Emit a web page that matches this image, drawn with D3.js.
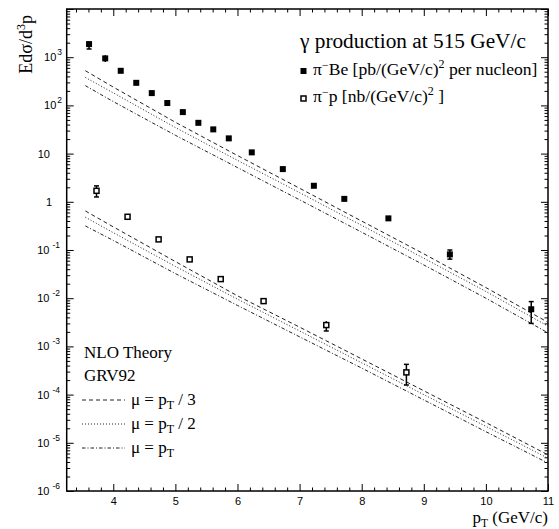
<!DOCTYPE html>
<html><head><meta charset="utf-8">
<script src="https://cdn.jsdelivr.net/npm/d3@7"></script>
<style>body{margin:0;background:#fff}</style>
</head><body>
<svg id="c" width="559" height="529"></svg>
<script>
// ---- data ----
const xDomain = [3.25, 11];
const yDomain = [1e-6, 1e4];
const xTickValues = [4, 5, 6, 7, 8, 9, 10, 11];
const xTickLabels = ["4", "5", "6", "7", "8", "9", "10", "11"];
const yTickValues = [1e-6, 1e-5, 1e-4, 1e-3, 1e-2, 1e-1, 1, 10, 1e2, 1e3];
const yTickBases = ["10", "10", "10", "10", "10", "10", "1", "10", "10", "10"];
const yTickExps = ["-6", "-5", "-4", "-3", "-2", "-1", "", "", "2", "3"];

// pi- Be (pb/(GeV/c)^2 per nucleon)
const beX = [3.61, 3.87, 4.12, 4.37, 4.62, 4.87, 5.12, 5.37, 5.61, 5.86, 6.23, 6.73, 7.23, 7.72, 8.43, 9.42, 10.73];
const beY = [1870, 945, 522, 294, 180, 112, 72.6, 43.5, 31.8, 20.7, 10.6, 4.77, 2.15, 1.15, 0.453, 0.081, 0.0059];
const beLo = [1480, 794, 500, 282, 172, 107, 69.5, 41.6, 30.4, 19.8, 10.1, 4.55, 2.05, 1.09, 0.43, 0.0646, 0.0030];
const beHi = [2140, 1096, 545, 307, 188, 117, 75.8, 45.4, 33.2, 21.6, 11.1, 4.99, 2.25, 1.21, 0.476, 0.100, 0.0085];

// pi- p (nb/(GeV/c)^2)
const pX = [3.73, 4.23, 4.73, 5.23, 5.73, 6.42, 7.43, 8.72];
const pY = [1.69, 0.489, 0.166, 0.0638, 0.0249, 0.0087, 0.00277, 0.000289];
const pLo = [1.26, 0.47, 0.159, 0.061, 0.0238, 0.0083, 0.00209, 0.000158];
const pHi = [2.14, 0.51, 0.173, 0.0665, 0.026, 0.0091, 0.00335, 0.000424];

// NLO theory curves
const thX = [3.55, 4, 5, 6, 7, 8, 9, 10, 11];
const beMu3 = [525, 240, 44.7, 9.12, 1.91, 0.398, 0.0832, 0.0166, 0.00316];
const beMu2 = [380, 182, 34.7, 7.24, 1.55, 0.324, 0.0676, 0.0138, 0.00263];
const beMu1 = [257, 120, 24.0, 5.13, 1.10, 0.234, 0.049, 0.0100, 0.00191];
const pMu3 = [0.646, 0.302, 0.0575, 0.0112, 0.00251, 5.5e-4, 1.2e-4, 2.63e-5, 5.62e-6];
const pMu2 = [0.479, 0.229, 0.0457, 0.00955, 0.00209, 4.57e-4, 1.0e-4, 2.19e-5, 4.79e-6];
const pMu1 = [0.316, 0.158, 0.0324, 0.00708, 0.00158, 3.55e-4, 7.76e-5, 1.70e-5, 3.80e-6];

// ---- drawing ----
const SERIF = "'Liberation Serif', 'Times New Roman', serif";
const SANS = "'Liberation Sans', Arial, sans-serif";
const svg = d3.select("#c");
const X0 = 66.7, X1 = 548, Y0 = 491, Y1 = 9;
const x = d3.scaleLinear().domain(xDomain).range([X0, X1]);
const y = d3.scaleLog().domain(yDomain).range([Y0, Y1]);

const xMinor = d3.range(34, 110, 2).map(v => v / 10).filter(v => Math.abs(v - Math.round(v)) > 1e-6);
const yMinor = [];
for (let e = -6; e < 4; e++) for (let k = 2; k <= 9; k++) yMinor.push(k * Math.pow(10, e));
const yMajorAll = yTickValues.concat([1e4]);

function styleAxis(g) {
  g.select(".domain").remove();
  g.selectAll("line").attr("stroke", "#000").attr("stroke-width", 1);
}
// bottom
svg.append("g").attr("transform", `translate(0,${Y0})`)
  .call(d3.axisBottom(x).tickValues(xTickValues).tickSize(-7).tickPadding(6)
    .tickFormat((d, i) => xTickLabels[i]))
  .call(styleAxis)
  .call(g => g.selectAll("text").attr("font-family", SANS).attr("font-size", 11).attr("fill", "#000"));
svg.append("g").attr("transform", `translate(0,${Y0})`)
  .call(d3.axisBottom(x).tickValues(xMinor).tickSize(-3.5).tickFormat("")).call(styleAxis);
// top
svg.append("g").attr("transform", `translate(0,${Y1})`)
  .call(d3.axisTop(x).tickValues(xTickValues).tickSize(-7).tickFormat("")).call(styleAxis);
svg.append("g").attr("transform", `translate(0,${Y1})`)
  .call(d3.axisTop(x).tickValues(xMinor).tickSize(-3.5).tickFormat("")).call(styleAxis);
// left
svg.append("g").attr("transform", `translate(${X0},0)`)
  .call(d3.axisLeft(y).tickValues(yMajorAll).tickSize(-7).tickFormat("")).call(styleAxis);
svg.append("g").attr("transform", `translate(${X0},0)`)
  .call(d3.axisLeft(y).tickValues(yMinor).tickSize(-3.5).tickFormat("")).call(styleAxis);
// right
svg.append("g").attr("transform", `translate(${X1},0)`)
  .call(d3.axisRight(y).tickValues(yMajorAll).tickSize(-7).tickFormat("")).call(styleAxis);
svg.append("g").attr("transform", `translate(${X1},0)`)
  .call(d3.axisRight(y).tickValues(yMinor).tickSize(-3.5).tickFormat("")).call(styleAxis);

// y tick labels
yTickValues.forEach((v, i) => {
  const exp = yTickExps[i];
  let endX;
  if (exp === "") endX = (yTickBases[i] === "1") ? 52 : 50;
  else if (exp.startsWith("-")) endX = 60;
  else endX = 62;
  const t = svg.append("text").attr("x", endX).attr("y", y(v) + 4)
    .attr("text-anchor", "end").attr("font-family", SANS).attr("font-size", 11).attr("fill", "#000");
  t.append("tspan").text(yTickBases[i]);
  if (exp !== "") {
    t.append("tspan").attr("dx", exp.startsWith("-") ? 3 : 1).attr("dy", -6).attr("font-size", 8.5).text(exp);
  }
});

// frame
svg.append("rect").attr("x", X0).attr("y", Y1).attr("width", X1 - X0).attr("height", Y0 - Y1)
  .attr("fill", "none").attr("stroke", "#000").attr("stroke-width", 1.5);

// theory curves
const line = d3.line().x(d => x(d[0])).y(d => y(d[1]));
const dashes = { mu3: "4,3", mu2: "1,2", mu1: "3.5,2,1,2" };
const curves = [[beMu3, "mu3"], [beMu2, "mu2"], [beMu1, "mu1"], [pMu3, "mu3"], [pMu2, "mu2"], [pMu1, "mu1"]];
curves.forEach(([vals, k]) => {
  svg.append("path").datum(thX.map((xv, i) => [xv, vals[i]]))
    .attr("d", line).attr("fill", "none").attr("stroke", "#222").attr("stroke-width", 1)
    .attr("stroke-dasharray", dashes[k]);
});

// data points
function drawPoints(xs, ys, lo, hi, filled) {
  xs.forEach((xv, i) => {
    const cx = x(xv), cy = y(ys[i]);
    const yl = y(lo[i]), yh = y(hi[i]);
    svg.append("line").attr("x1", cx).attr("x2", cx).attr("y1", yl).attr("y2", yh)
      .attr("stroke", "#000").attr("stroke-width", 1.5);
    if (yl - cy > 4) svg.append("line").attr("x1", cx - 2.5).attr("x2", cx + 2.5).attr("y1", yl).attr("y2", yl).attr("stroke", "#000").attr("stroke-width", 1.5);
    if (cy - yh > 4) svg.append("line").attr("x1", cx - 2.5).attr("x2", cx + 2.5).attr("y1", yh).attr("y2", yh).attr("stroke", "#000").attr("stroke-width", 1.5);
    marker(cx, cy, filled);
  });
}
function marker(cx, cy, filled) {
  if (filled) svg.append("rect").attr("x", cx - 3).attr("y", cy - 3).attr("width", 6).attr("height", 6).attr("fill", "#000");
  else svg.append("rect").attr("x", cx - 2.5).attr("y", cy - 2.5).attr("width", 5).attr("height", 5)
    .attr("fill", "#fff").attr("stroke", "#000").attr("stroke-width", 1.5);
}
drawPoints(beX, beY, beLo, beHi, true);
drawPoints(pX, pY, pLo, pHi, false);

// top-right legend
svg.append("text").attr("x", 300).attr("y", 48).attr("font-family", SERIF).attr("font-size", 21.3)
  .text("γ production at 515 GeV/c");
marker(303.5, 71, true);
marker(303.5, 98.5, false);
const l1 = svg.append("text").attr("x", 313).attr("y", 75).attr("font-family", SERIF).attr("font-size", 17.6);
l1.append("tspan").text("π");
l1.append("tspan").attr("dy", -6).attr("font-size", 12).text("−");
l1.append("tspan").attr("dy", 6).text("Be [pb/(GeV/c)");
l1.append("tspan").attr("dy", -7).attr("font-size", 12).text("2");
l1.append("tspan").attr("dy", 7).text(" per nucleon]");
const l2 = svg.append("text").attr("x", 313).attr("y", 102).attr("font-family", SERIF).attr("font-size", 17.6);
l2.append("tspan").text("π");
l2.append("tspan").attr("dy", -6).attr("font-size", 12).text("−");
l2.append("tspan").attr("dy", 6).text("p [nb/(GeV/c)");
l2.append("tspan").attr("dy", -7).attr("font-size", 12).text("2");
l2.append("tspan").attr("dy", 7).text(" ]");

// bottom-left legend
svg.append("text").attr("x", 84).attr("y", 358).attr("font-family", SERIF).attr("font-size", 17).text("NLO Theory");
svg.append("text").attr("x", 84).attr("y", 381).attr("font-family", SERIF).attr("font-size", 17).text("GRV92");
const legItems = [["mu3", " / 3"], ["mu2", " / 2"], ["mu1", ""]];
legItems.forEach(([k, suf], i) => {
  const ly = 400 + i * 24;
  svg.append("line").attr("x1", 82).attr("x2", 125).attr("y1", ly).attr("y2", ly)
    .attr("stroke", "#222").attr("stroke-width", 1).attr("stroke-dasharray", dashes[k]);
  const t = svg.append("text").attr("x", 131).attr("y", ly + 5).attr("font-family", SERIF).attr("font-size", 17);
  t.append("tspan").text("μ = p");
  t.append("tspan").attr("dy", 4).attr("font-size", 12).text("T");
  t.append("tspan").attr("dy", -4).text(suf);
});

// axis titles
const yt = svg.append("text").attr("transform", "translate(32,15) rotate(-90)")
  .attr("text-anchor", "end").attr("font-family", SERIF).attr("font-size", 18);
yt.append("tspan").text("Edσ/d");
yt.append("tspan").attr("dy", -7).attr("font-size", 12).text("3");
yt.append("tspan").attr("dy", 7).text("p");
const xt = svg.append("text").attr("x", 548).attr("y", 523).attr("text-anchor", "end")
  .attr("font-family", SERIF).attr("font-size", 17);
xt.append("tspan").text("p");
xt.append("tspan").attr("dy", 4).attr("font-size", 11.5).text("T");
xt.append("tspan").attr("dy", -4).text(" (GeV/c)");
</script>
</body></html>
